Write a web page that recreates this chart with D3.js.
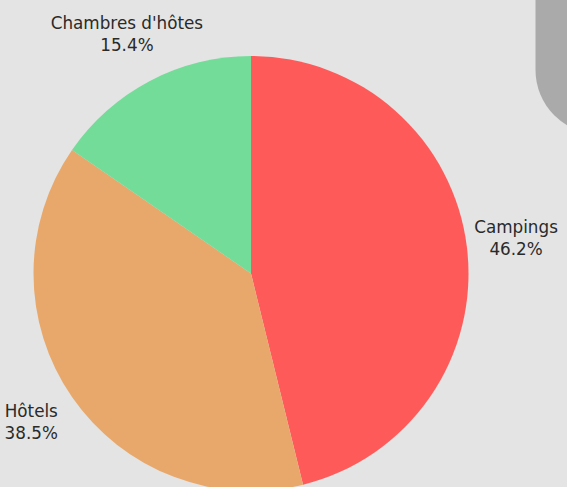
<!DOCTYPE html>
<html><head><meta charset="utf-8">
<script src="https://cdn.jsdelivr.net/npm/d3@7"></script>
<style>
html,body{margin:0;padding:0;background:#e3e4e3;overflow:hidden;}
svg{display:block;}
</style></head>
<body>
<svg id="c" width="567" height="487"></svg>
<script>
const categories = ["Campings", "Hôtels", "Chambres d'hôtes"];
const values = [6, 5, 2];
const colors = ["#ff5a5a", "#e9a86b", "#73dc98"];

const W = 567, H = 487;
const cx = 251, cy = 273.5, R = 217.5, labelR = 267;
const svg = d3.select("#c");

svg.append("rect").attr("x", 0).attr("y", 0).attr("width", W).attr("height", H).attr("fill", "#e3e4e3");
// decorative grey block in top-right corner
svg.append("rect").attr("x", 535.5).attr("y", -80).attr("width", 200).attr("height", 214)
  .attr("rx", 64).attr("fill", "#aaaaaa");

const total = d3.sum(values);
const pie = d3.pie().sort(null).value(d => d)(values);
const arc = d3.arc().innerRadius(0).outerRadius(R);
const g = svg.append("g").attr("transform", `translate(${cx},${cy})`);
g.selectAll("path").data(pie).join("path")
  .attr("d", arc).attr("fill", (d, i) => colors[i]);

const fmt = v => (v / total * 100).toFixed(1) + "%";
const lab = g.selectAll("g.lab").data(pie).join("g").attr("class", "lab")
  .attr("transform", d => {
    const a = (d.startAngle + d.endAngle) / 2;
    return `translate(${labelR * Math.sin(a)},${-labelR * Math.cos(a)})`;
  });
const font = "'DejaVu Sans', sans-serif";
lab.append("text").attr("text-anchor", "middle").attr("y", -8)
  .attr("font-family", font).attr("font-size", 16.8).attr("fill", "#2a2a2a")
  .text((d, i) => categories[i]);
lab.append("text").attr("text-anchor", "middle").attr("y", 14)
  .attr("font-family", font).attr("font-size", 16.8).attr("fill", "#2a2a2a")
  .text(d => fmt(d.data));
</script>
</body></html>
